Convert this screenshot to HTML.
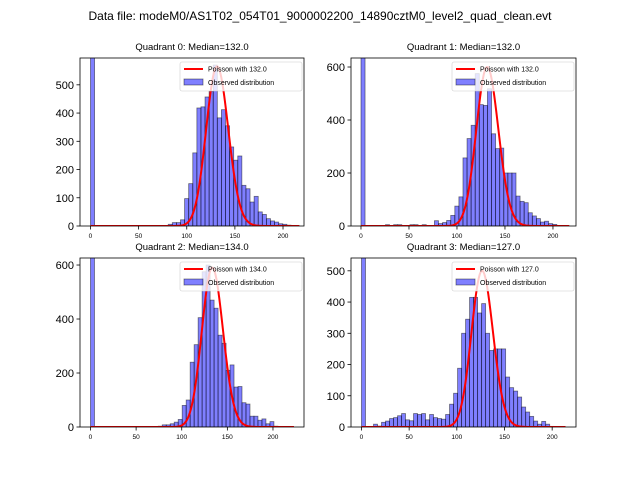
<!DOCTYPE html>
<html><head><meta charset="utf-8"><style>
body{margin:0;background:#fff;}
svg{display:block;font-family:"Liberation Sans","DejaVu Sans",sans-serif;}
</style></head><body>
<svg id="fig" width="640" height="480" xmlns="http://www.w3.org/2000/svg">
<rect width="640" height="480" fill="#fff"/>
<text x="320" y="20" text-anchor="middle" font-size="12">Data file: modeM0/AS1T02_054T01_9000002200_14890cztM0_level2_quad_clean.evt</text>
</svg>
<script>
// Chart data
const quadrantNames = ["Quadrant 0","Quadrant 1","Quadrant 2","Quadrant 3"];
const medians = [132.0, 132.0, 134.0, 127.0];
const poissonPeaks = [565, 600, 590, 500];
const binWidths = [4.25, 4.25, 4.37, 4.2];
const counts0 = [2000,0,0,0,0,0,0,0,0,0,0,0,0,0,0,0,0,0,0,6,12,12,22,97,150,259,418,422,457,477,570,383,412,355,280,233,248,144,132,85,105,50,41,26,18,14,8,6,3,2,0];
const counts1 = [2000,0,0,0,0,0,5,0,5,5,0,0,5,5,0,5,0,0,20,9,13,21,40,75,110,257,330,380,575,458,455,518,348,292,294,200,200,200,113,93,88,50,38,28,15,18,9,6,0,0,0];
const counts2 = [2000,0,0,0,0,0,0,0,0,0,0,0,0,0,0,0,0,3,8,8,12,18,28,80,100,240,305,405,575,600,470,440,340,310,210,230,148,150,90,85,40,40,25,30,12,20,3,0,0,0,0];
const counts3 = [2000,0,0,9,3,15,19,27,30,36,43,23,20,43,40,43,23,40,30,27,25,40,73,108,188,300,345,415,415,365,395,300,245,250,250,250,160,126,115,96,64,48,34,19,9,18,9,2,0,0,0];
const yTicks0 = [0,100,200,300,400,500];
const yTicks1 = [0,200,400,600];
const yTicks2 = [0,200,400,600];
const yTicks3 = [0,100,200,300,400,500];
const xTicks = [0,50,100,150,200];
const xLims = [[-10.9,221.8],[-10.4,224],[-11.5,234],[-11,225]];
const yMaxes = [595, 634, 626, 541];

const allCounts=[counts0,counts1,counts2,counts3];
const allYTicks=[yTicks0,yTicks1,yTicks2,yTicks3];
const boxes=[[80,58,304,226],[351,58,576,226],[80,258,304,427],[351,258,576,427]];
const NS="http://www.w3.org/2000/svg";
const fig=document.getElementById('fig');
function mk(tag,attrs,parent){const e=document.createElementNS(NS,tag);for(const k in attrs)e.setAttribute(k,attrs[k]);(parent||fig).appendChild(e);return e;}
function lgamma(n){let s=0;for(let i=2;i<=n;i++)s+=Math.log(i);return s;}
function pmf(k,mu){return Math.exp(k*Math.log(mu)-mu-lgamma(k));}

for(let p=0;p<4;p++){
  const [L,T,R,B]=boxes[p];
  const [x0,x1]=xLims[p];const ymax=yMaxes[p];
  const X=v=>L+(v-x0)/(x1-x0)*(R-L);
  const Y=v=>B-v/ymax*(B-T);
  const g=mk('g',{});
  
  
  const cid='clip'+p;
  const cp=mk('clipPath',{id:cid},g);mk('rect',{x:L,y:T,width:R-L,height:B-T},cp);
  const plot=mk('g',{'clip-path':'url(#'+cid+')'},g);
  const cnt=allCounts[p],bw=binWidths[p];
  cnt.forEach((c,i)=>{
    if(c<=0)return;
    const r=mk('rect',{x:X(i*bw),y:Y(c),width:X((i+1)*bw)-X(i*bw),height:B-Y(c),fill:'rgba(0,0,255,0.5)',stroke:'rgba(0,0,0,0.5)','stroke-width':0.8},plot);
    
    
  });
  const mu=medians[p],sc=poissonPeaks[p]/pmf(Math.round(mu),mu);
  let d='';const kmax=Math.round(bw*cnt.length);
  for(let k=0;k<=kmax;k++){d+=(k?'L':'M')+X(k).toFixed(2)+','+Y(sc*pmf(k,mu)).toFixed(2);}
  const pl=mk('path',{d:d,fill:'none',stroke:'red','stroke-width':2},plot);
  
  
  mk('rect',{x:L,y:T,width:R-L,height:B-T,fill:'none',stroke:'#000','stroke-width':0.8},g);
  xTicks.forEach(v=>{
    mk('line',{x1:X(v),x2:X(v),y1:B,y2:B+3.5,stroke:'#000','stroke-width':0.8},g);
    const t=mk('text',{x:X(v),y:B+12,'font-size':6.5,'text-anchor':'middle'},g);t.textContent=v;
    
    
  });
  allYTicks[p].forEach(v=>{
    mk('line',{x1:L-3.5,x2:L,y1:Y(v),y2:Y(v),stroke:'#000','stroke-width':0.8},g);
    const t=mk('text',{x:L-6,y:Y(v)+4,'font-size':11,'text-anchor':'end'},g);t.textContent=v;
    
    
  });
  const tt=mk('text',{x:(L+R)/2,y:T-8,'font-size':9.5,'text-anchor':'middle'},g);
  tt.textContent=quadrantNames[p]+': Median='+medians[p].toFixed(1);
  
  
  const lg=mk('g',{},g);
  
  
  mk('rect',{x:R-124,y:T+4,width:122,height:29,rx:2,fill:'rgba(255,255,255,0.8)',stroke:'#ccc','stroke-width':0.6},lg);
  mk('line',{x1:R-120,x2:R-101,y1:T+11,y2:T+11,stroke:'red','stroke-width':2},lg);
  mk('rect',{x:R-120,y:T+21,width:19,height:6,fill:'rgba(0,0,255,0.5)',stroke:'rgba(0,0,0,0.5)','stroke-width':0.8},lg);
  const l1=mk('text',{x:R-96,y:T+13.5,'font-size':7},lg);l1.textContent='Poisson with '+medians[p].toFixed(1);
  
  
  const l2=mk('text',{x:R-96,y:T+27,'font-size':7},lg);l2.textContent='Observed distribution';
  
  
}
</script>
</body></html>
